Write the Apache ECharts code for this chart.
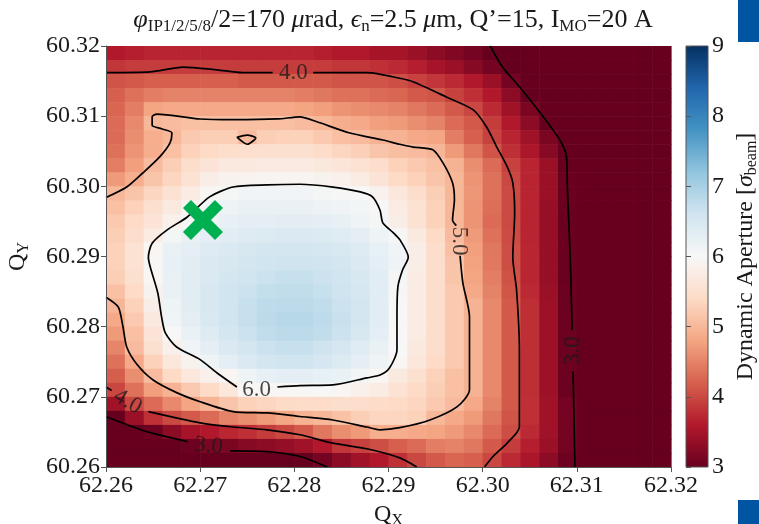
<!DOCTYPE html>
<html>
<head>
<meta charset="utf-8">
<script src="https://cdn.jsdelivr.net/npm/echarts@6/dist/echarts.min.js"></script>
<style>
  html, body { margin: 0; padding: 0; background: #fff; }
  #chart { width: 759px; height: 524px; }
</style>
</head>
<body>
<div id="chart"></div>
<script>
// tune grid cell centres (step 0.002), rows listed top -> bottom
var qxCells = [62.261, 62.263, 62.265, 62.267, 62.269, 62.271, 62.273, 62.275, 62.277, 62.279,
               62.281, 62.283, 62.285, 62.287, 62.289, 62.291, 62.293, 62.295, 62.297, 62.299,
               62.301, 62.303, 62.305, 62.307, 62.309, 62.311, 62.313, 62.315, 62.317, 62.319];
var qyCells = [60.319, 60.317, 60.315, 60.313, 60.311, 60.309, 60.307, 60.305, 60.303, 60.301,
               60.299, 60.297, 60.295, 60.293, 60.291, 60.289, 60.287, 60.285, 60.283, 60.281,
               60.279, 60.277, 60.275, 60.273, 60.271, 60.269, 60.267, 60.265, 60.263, 60.261];

// dynamic aperture [sigma], one row per qyCells entry
var daRows = [
  [3.6,3.65,3.7,3.7,3.7,3.7,3.7,3.7,3.7,3.7,3.7,3.65,3.6,3.6,3.5,3.5,3.4,3.3,3.2,3.1,3.0,2.9,2.8,2.8,2.7,2.7,2.7,2.7,2.7,2.7],
  [3.85,3.9,3.9,3.9,3.9,3.9,3.9,3.9,3.9,3.9,3.9,3.9,3.85,3.85,3.8,3.75,3.65,3.5,3.4,3.25,3.1,2.95,2.8,2.8,2.7,2.7,2.7,2.7,2.7,2.7],
  [4.1,4.15,4.2,4.2,4.2,4.2,4.2,4.15,4.15,4.15,4.15,4.15,4.1,4.1,4.1,4.05,3.95,3.85,3.75,3.6,3.4,3.1,2.9,2.8,2.7,2.7,2.7,2.7,2.7,2.7],
  [4.2,4.35,4.45,4.5,4.5,4.5,4.5,4.5,4.5,4.5,4.45,4.4,4.35,4.35,4.3,4.25,4.15,4.1,3.95,3.8,3.6,3.3,3.0,2.85,2.7,2.7,2.7,2.7,2.7,2.7],
  [4.25,4.45,4.8,4.85,4.85,4.85,4.85,4.85,4.85,4.85,4.8,4.75,4.65,4.6,4.55,4.5,4.4,4.3,4.15,4.0,3.75,3.45,3.15,2.9,2.75,2.7,2.7,2.7,2.7,2.7],
  [4.3,4.55,5.0,5.05,5.1,5.1,5.1,5.1,5.1,5.1,5.05,5.0,4.9,4.85,4.75,4.7,4.6,4.5,4.3,4.15,3.9,3.6,3.3,3.0,2.85,2.7,2.7,2.7,2.7,2.7],
  [4.3,4.6,4.9,5.0,5.2,5.25,5.25,5.05,5.25,5.3,5.3,5.2,5.1,5.05,4.95,4.95,4.85,4.8,4.45,4.2,3.95,3.7,3.45,3.15,2.9,2.75,2.7,2.7,2.7,2.7],
  [4.35,4.65,4.9,5.1,5.3,5.4,5.45,5.48,5.5,5.5,5.5,5.42,5.35,5.28,5.15,5.08,5.05,4.98,4.7,4.4,4.1,3.8,3.55,3.25,2.95,2.8,2.7,2.7,2.7,2.7],
  [4.45,4.75,5.05,5.25,5.45,5.6,5.7,5.7,5.72,5.72,5.72,5.68,5.62,5.55,5.45,5.3,5.2,5.1,4.95,4.6,4.3,3.95,3.7,3.4,3.0,2.8,2.7,2.7,2.7,2.7],
  [4.7,4.9,5.15,5.35,5.55,5.8,5.9,5.92,5.93,5.93,5.93,5.9,5.85,5.75,5.6,5.4,5.3,5.15,5.0,4.65,4.35,4.0,3.7,3.4,3.02,2.8,2.7,2.7,2.7,2.7],
  [5.0,5.15,5.35,5.55,5.75,5.97,6.05,6.1,6.1,6.1,6.1,6.05,6.02,6.0,5.88,5.65,5.45,5.25,5.0,4.68,4.35,4.02,3.7,3.4,3.02,2.8,2.7,2.7,2.7,2.7],
  [5.1,5.3,5.5,5.7,5.93,6.08,6.15,6.2,6.2,6.2,6.2,6.18,6.12,6.08,6.0,5.75,5.55,5.3,5.0,4.65,4.33,4.02,3.7,3.38,3.02,2.8,2.7,2.7,2.7,2.7],
  [5.2,5.4,5.6,5.85,6.05,6.15,6.25,6.3,6.3,6.32,6.32,6.3,6.25,6.15,6.05,5.8,5.55,5.3,5.0,4.65,4.3,4.02,3.7,3.38,3.02,2.8,2.7,2.7,2.7,2.7],
  [5.25,5.45,5.75,6.05,6.2,6.3,6.35,6.4,6.42,6.45,6.45,6.42,6.38,6.3,6.15,6.02,5.7,5.4,5.05,4.7,4.35,4.03,3.7,3.38,3.02,2.8,2.7,2.7,2.7,2.7],
  [5.3,5.55,5.95,6.2,6.3,6.4,6.45,6.5,6.55,6.55,6.55,6.52,6.48,6.4,6.25,6.1,5.8,5.45,5.1,4.75,4.4,4.05,3.72,3.38,3.03,2.8,2.7,2.7,2.7,2.7],
  [5.3,5.55,5.97,6.25,6.35,6.45,6.5,6.55,6.6,6.62,6.62,6.6,6.55,6.45,6.3,6.12,5.8,5.45,5.15,4.78,4.42,4.05,3.72,3.38,3.03,2.8,2.7,2.7,2.7,2.7],
  [5.25,5.5,5.95,6.2,6.35,6.45,6.55,6.6,6.65,6.7,6.7,6.65,6.6,6.5,6.35,6.05,5.75,5.45,5.15,4.8,4.45,4.08,3.72,3.38,3.03,2.8,2.7,2.7,2.7,2.7],
  [5.1,5.4,5.9,6.2,6.35,6.5,6.6,6.65,6.72,6.75,6.75,6.7,6.62,6.52,6.35,6.02,5.75,5.45,5.2,4.85,4.5,4.12,3.75,3.4,3.05,2.8,2.7,2.7,2.7,2.7],
  [4.98,5.3,5.8,6.15,6.35,6.5,6.6,6.7,6.78,6.8,6.8,6.75,6.65,6.55,6.35,6.0,5.75,5.45,5.2,4.95,4.55,4.15,3.78,3.42,3.05,2.8,2.7,2.7,2.7,2.7],
  [4.85,5.2,5.7,6.1,6.3,6.48,6.6,6.7,6.8,6.85,6.85,6.78,6.68,6.55,6.35,6.0,5.75,5.45,5.2,4.95,4.55,4.15,3.78,3.42,3.05,2.8,2.7,2.7,2.7,2.7],
  [4.7,5.1,5.6,6.0,6.2,6.4,6.55,6.65,6.75,6.8,6.8,6.75,6.65,6.5,6.3,6.0,5.75,5.45,5.2,4.95,4.55,4.15,3.78,3.42,3.05,2.8,2.7,2.7,2.7,2.7],
  [4.52,5.05,5.5,5.85,6.1,6.3,6.45,6.55,6.65,6.7,6.7,6.62,6.52,6.38,6.2,6.0,5.7,5.45,5.2,4.95,4.55,4.15,3.78,3.42,3.05,2.8,2.7,2.7,2.7,2.7],
  [4.35,4.85,5.3,5.65,5.9,6.15,6.3,6.45,6.55,6.6,6.6,6.52,6.42,6.3,6.15,5.95,5.65,5.4,5.2,4.95,4.55,4.15,3.78,3.42,3.05,2.8,2.7,2.7,2.7,2.7],
  [4.18,4.6,5.05,5.4,5.65,5.85,5.95,6.15,6.25,6.3,6.3,6.25,6.2,6.08,5.95,5.7,5.5,5.3,5.1,4.95,4.55,4.15,3.78,3.42,3.05,2.8,2.7,2.7,2.7,2.7],
  [3.98,4.35,4.75,4.95,5.2,5.4,5.65,5.95,5.95,5.97,5.98,6.0,5.95,5.85,5.75,5.55,5.4,5.25,5.1,4.95,4.55,4.15,3.78,3.42,3.05,2.8,2.7,2.7,2.7,2.7],
  [3.45,4.0,4.3,4.55,4.8,4.98,5.15,5.3,5.35,5.4,5.42,5.44,5.46,5.45,5.43,5.4,5.35,5.2,5.05,4.85,4.5,4.15,3.8,3.45,3.1,2.8,2.7,2.7,2.7,2.7],
  [2.98,3.4,3.8,4.0,4.15,4.3,4.5,4.6,4.7,4.82,4.95,5.0,5.12,5.25,5.35,5.35,5.3,5.0,4.85,4.7,4.4,4.1,3.8,3.45,3.1,2.8,2.7,2.7,2.7,2.7],
  [2.75,2.9,3.05,3.3,3.5,3.6,3.72,3.8,3.9,4.0,4.15,4.4,4.6,4.7,4.9,4.9,4.85,4.8,4.7,4.55,4.3,4.05,3.75,3.45,3.1,2.8,2.7,2.7,2.7,2.7],
  [2.6,2.7,2.85,2.95,3.05,3.15,3.15,3.25,3.3,3.35,3.45,3.6,3.85,3.95,4.05,4.2,4.3,4.45,4.5,4.4,4.15,3.9,3.65,3.4,3.1,2.8,2.7,2.7,2.7,2.7],
  [2.5,2.55,2.6,2.7,2.75,2.8,2.85,2.9,2.95,2.95,3.0,3.1,3.3,3.45,3.6,3.8,4.0,4.15,4.25,4.2,4.0,3.75,3.55,3.3,3.05,2.8,2.7,2.7,2.7,2.7]
];

// contour lines [QX, QY]; split where the inline label sits
var contour3UpperA = [[62.3008,60.3200],[62.3021,60.3170],[62.3039,60.3142],[62.3061,60.3105],[62.3082,60.3066],[62.3089,60.3042],[62.3090,60.2995],[62.3093,60.2899],[62.3095,60.2795]];
var contour3UpperB = [[62.3096,60.2736],[62.3098,60.2600]];
var contour3LowerA = [[62.2600,60.2672],[62.2629,60.2657],[62.2647,60.2649],[62.2687,60.2636]];
var contour3LowerB = [[62.2732,60.2623],[62.2771,60.2622],[62.2806,60.2615],[62.2835,60.2600]];
var contour4UpperA = [[62.2600,60.3162],[62.2647,60.3163],[62.2682,60.3170],[62.2718,60.3166],[62.2745,60.3162],[62.2777,60.3162]];
var contour4UpperB = [[62.2820,60.3162],[62.2877,60.3162],[62.2912,60.3154],[62.2926,60.3149],[62.2962,60.3127],[62.2990,60.3109],[62.3004,60.3085],[62.3015,60.3056],[62.3026,60.3028],[62.3032,60.3005],[62.3034,60.2962],[62.3032,60.2899],[62.3036,60.2852],[62.3039,60.2767],[62.3039,60.2657],[62.3026,60.2634],[62.3011,60.2615],[62.3002,60.2600]];
var contour4LowerA = [[62.2600,60.2714],[62.2606,60.2709]];
var contour4LowerB = [[62.2645,60.2679],[62.2700,60.2663],[62.2735,60.2657],[62.2771,60.2653],[62.2806,60.2646],[62.2841,60.2634],[62.2877,60.2626],[62.2912,60.2613],[62.2930,60.2600]];
var contour5A = [[62.2600,60.2984],[62.2622,60.2999],[62.2639,60.3019],[62.2657,60.3042],[62.2668,60.3062],[62.2670,60.3076],[62.2659,60.3082],[62.2649,60.3087],[62.2649,60.3099],[62.2654,60.3103],[62.2700,60.3096],[62.2735,60.3095],[62.2782,60.3096],[62.2806,60.3099],[62.2824,60.3092],[62.2859,60.3076],[62.2894,60.3066],[62.2912,60.3060],[62.2926,60.3056],[62.2947,60.3052],[62.2958,60.3033],[62.2968,60.3005],[62.2970,60.2981],[62.2968,60.2952],[62.2972,60.2944]];
var contour5B = [[62.2976,60.2901],[62.2979,60.2862],[62.2986,60.2814],[62.2986,60.2710],[62.2973,60.2686],[62.2944,60.2667],[62.2912,60.2656],[62.2891,60.2653],[62.2877,60.2657],[62.2841,60.2667],[62.2806,60.2672],[62.2771,60.2677],[62.2735,60.2679],[62.2700,60.2693],[62.2675,60.2706],[62.2650,60.2724],[62.2633,60.2746],[62.2622,60.2771],[62.2618,60.2800],[62.2613,60.2828],[62.2600,60.2842]];
var contour5Island = [[62.2739,60.3070],[62.2750,60.3073],[62.2759,60.3069],[62.2750,60.3060],[62.2739,60.3070]];
var contour6 = [[62.2782,60.2714],[62.2806,60.2716],[62.2841,60.2717],[62.2877,60.2727],[62.2891,60.2731],[62.2901,60.2741],[62.2909,60.2767],[62.2909,60.2814],[62.2910,60.2857],[62.2915,60.2881],[62.2921,60.2899],[62.2912,60.2924],[62.2905,60.2934],[62.2894,60.2948],[62.2891,60.2966],[62.2883,60.2985],[62.2870,60.2992],[62.2841,60.2999],[62.2806,60.3003],[62.2771,60.3002],[62.2735,60.2999],[62.2710,60.2985],[62.2686,60.2956],[62.2665,60.2938],[62.2649,60.2919],[62.2645,60.2899],[62.2647,60.2885],[62.2655,60.2848],[62.2659,60.2814],[62.2663,60.2791],[62.2675,60.2771],[62.2700,60.2753],[62.2718,60.2734],[62.2739,60.2714]];

// inline contour labels: [QX, QY, text, rotation]
var contourLabels = [
  [62.2799, 60.3162, '4.0', 0],
  [62.2975, 60.2922, '5.0', -90],
  [62.2760, 60.2710, '6.0', 0],
  [62.3096, 60.2766, '3.0', 90],
  [62.2623, 60.2693, '4.0', -30],
  [62.2709, 60.2630, '3.0', -6]
];

var workingPoint = [62.2703, 60.2952];

var xTicks = [62.26, 62.27, 62.28, 62.29, 62.30, 62.31, 62.32];
var yTicks = [60.26, 60.27, 60.28, 60.29, 60.30, 60.31, 60.32];
var daMin = 3, daMax = 9;
var cellStep = 0.002;

// matplotlib RdBu, low -> high
var rdbu = ['#67001f', '#b2182b', '#d6604d', '#f4a582', '#fddbc7', '#f7f7f7',
            '#d1e5f0', '#92c5de', '#4393c3', '#2166ac', '#053061'];

(function () {
  var serif = '"Liberation Serif", "DejaVu Serif", serif';
  var ink = '#1a1a1a';
  var spine = '#555';

  var cells = [];
  daRows.forEach(function (row, r) {
    row.forEach(function (v, c) {
      cells.push([qxCells[c], qyCells[r], Math.min(daMax, Math.max(daMin, v))]);
    });
  });

  var contourPaths = [contour3UpperA, contour3UpperB, contour3LowerA, contour3LowerB,
    contour4UpperA, contour4UpperB, contour4LowerA, contour4LowerB,
    contour5A, contour5B, contour5Island, contour6];

  var chart = echarts.init(document.getElementById('chart'), null, { renderer: 'canvas' });

  var series = [{
    type: 'custom',
    xAxisIndex: 0,
    yAxisIndex: 0,
    data: cells,
    encode: { x: 0, y: 1 },
    renderItem: function (params, api) {
      var x = api.value(0), y = api.value(1);
      var p0 = api.coord([x - cellStep / 2, y + cellStep / 2]);
      var p1 = api.coord([x + cellStep / 2, y - cellStep / 2]);
      return {
        type: 'rect',
        shape: { x: p0[0], y: p0[1], width: p1[0] - p0[0] + 0.6, height: p1[1] - p0[1] + 0.6 },
        style: { fill: api.visual('color') }
      };
    },
    z: 1
  }];

  contourPaths.forEach(function (path) {
    series.push({
      type: 'line',
      xAxisIndex: 0,
      yAxisIndex: 0,
      data: path,
      showSymbol: false,
      symbol: 'none',
      smooth: 0.25,
      lineStyle: { color: '#000', width: 1.7 },
      silent: true,
      z: 3
    });
  });

  series.push({
    type: 'scatter',
    xAxisIndex: 0,
    yAxisIndex: 0,
    symbolSize: 0,
    silent: true,
    z: 4,
    data: contourLabels.map(function (l) {
      return {
        value: [l[0], l[1]],
        label: {
          show: true, position: 'inside', formatter: l[2], rotate: l[3],
          color: ink, fontFamily: serif, fontSize: 23
        }
      };
    })
  });

  series.push({
    type: 'scatter',
    xAxisIndex: 0,
    yAxisIndex: 0,
    data: [workingPoint],
    symbol: 'path://M4,0 L10,6 L16,0 L20,4 L14,10 L20,16 L16,20 L10,14 L4,20 L0,16 L6,10 L0,4 Z',
    symbolSize: 40,
    itemStyle: { color: '#00b050', opacity: 1 },
    silent: true,
    z: 5
  });

  // colour bar
  series.push({
    type: 'custom',
    xAxisIndex: 1,
    yAxisIndex: 1,
    data: [[0, daMin]],
    renderItem: function (params, api) {
      var p0 = api.coord([0, daMax]);
      var p1 = api.coord([1, daMin]);
      var stops = rdbu.map(function (c, i) {
        return { offset: 1 - i / (rdbu.length - 1), color: c };
      });
      return {
        type: 'rect',
        shape: { x: p0[0], y: p0[1], width: p1[0] - p0[0], height: p1[1] - p0[1] },
        style: {
          fill: new echarts.graphic.LinearGradient(0, 0, 0, 1, stops.reverse()),
          stroke: spine, lineWidth: 1
        }
      };
    },
    silent: true
  });

  var tickFont = { color: ink, fontFamily: serif, fontSize: 24 };
  var subRich = { fontFamily: serif, fontSize: 16, color: ink, lineHeight: 14, verticalAlign: 'bottom' };

  chart.setOption({
    animation: false,
    backgroundColor: '#fff',
    title: {
      text: '{it|φ}{sub|IP1/2/5/8}{m|/2=170 }{it|μ}{m|rad, }{it|ϵ}{sub|n}{m|=2.5 }{it|μ}{m|m, Q’=15, I}{sub|MO}{m|=20 A}',
      left: 388,
      textAlign: 'center',
      top: 0,
      textStyle: {
        fontWeight: 'normal',
        rich: {
          m: { fontFamily: serif, fontSize: 26, fontWeight: 'normal', color: ink, lineHeight: 30, verticalAlign: 'middle' },
          it: { fontFamily: serif, fontSize: 26, fontWeight: 'normal', fontStyle: 'italic', color: ink, lineHeight: 30, verticalAlign: 'middle' },
          sub: { fontFamily: serif, fontSize: 17, fontWeight: 'normal', color: ink, lineHeight: 14, verticalAlign: 'bottom' }
        }
      }
    },
    grid: [
      { left: 106, right: 88, top: 46, bottom: 57, containLabel: false, outerBoundsMode: 'none' },
      { left: 686, width: 22, top: 46, bottom: 57, containLabel: false, outerBoundsMode: 'none' }
    ],
    visualMap: {
      show: false,
      type: 'continuous',
      min: daMin,
      max: daMax,
      dimension: 2,
      seriesIndex: 0,
      inRange: { color: rdbu }
    },
    xAxis: [{
      type: 'value',
      gridIndex: 0,
      min: xTicks[0],
      max: xTicks[xTicks.length - 1],
      interval: 0.01,
      z: 6,
      name: '{q|Q}{s|X}',
      nameLocation: 'middle',
      nameGap: 30,
      nameTextStyle: {
        rich: {
          q: { fontFamily: serif, fontSize: 24, color: ink, lineHeight: 28, verticalAlign: 'middle' },
          s: subRich
        }
      },
      axisLine: { show: true, onZero: false, lineStyle: { color: spine, width: 1 } },
      axisTick: { show: true, inside: false, length: 5, lineStyle: { color: spine } },
      axisLabel: Object.assign({ margin: 7, formatter: function (v) { return v.toFixed(2); } }, tickFont),
      splitLine: { show: false }
    }, {
      type: 'value',
      gridIndex: 1,
      min: 0,
      max: 1,
      show: false
    }],
    yAxis: [{
      type: 'value',
      gridIndex: 0,
      min: yTicks[0],
      max: yTicks[yTicks.length - 1],
      interval: 0.01,
      z: 6,
      name: '{q|Q}{s|Y}',
      nameLocation: 'middle',
      nameGap: 74,
      nameRotate: 90,
      nameTextStyle: {
        rich: {
          q: { fontFamily: serif, fontSize: 24, color: ink, lineHeight: 28, verticalAlign: 'middle' },
          s: subRich
        }
      },
      axisLine: { show: true, onZero: false, lineStyle: { color: spine, width: 1 } },
      axisTick: { show: true, inside: false, length: 5, lineStyle: { color: spine } },
      axisLabel: Object.assign({ margin: 6, formatter: function (v) { return v.toFixed(2); } }, tickFont),
      splitLine: { show: false }
    }, {
      type: 'value',
      gridIndex: 1,
      position: 'right',
      min: daMin,
      max: daMax,
      interval: 1,
      z: 6,
      name: '{m|Dynamic Aperture [}{it|σ}{s|beam}{m|]}',
      nameLocation: 'middle',
      nameGap: 24,
      nameRotate: 90,
      nameTextStyle: {
        rich: {
          m: { fontFamily: serif, fontSize: 24, color: ink, lineHeight: 28, verticalAlign: 'middle' },
          it: { fontFamily: serif, fontSize: 24, fontStyle: 'italic', color: ink, lineHeight: 28, verticalAlign: 'middle' },
          s: subRich
        }
      },
      axisLine: { show: false },
      axisTick: { show: true, inside: false, length: 5, lineStyle: { color: spine } },
      axisLabel: Object.assign({ margin: 4 }, tickFont),
      splitLine: { show: false }
    }],
    graphic: [
      { type: 'rect', right: 0, top: 0, shape: { width: 21, height: 42 }, style: { fill: '#0055a3' }, silent: true, z: -1 },
      { type: 'rect', right: 0, bottom: 0, shape: { width: 21, height: 24 }, style: { fill: '#0055a3' }, silent: true, z: -1 }
    ],
    series: series
  });

  window.addEventListener('resize', function () { chart.resize(); });
})();
</script>
</body>
</html>
